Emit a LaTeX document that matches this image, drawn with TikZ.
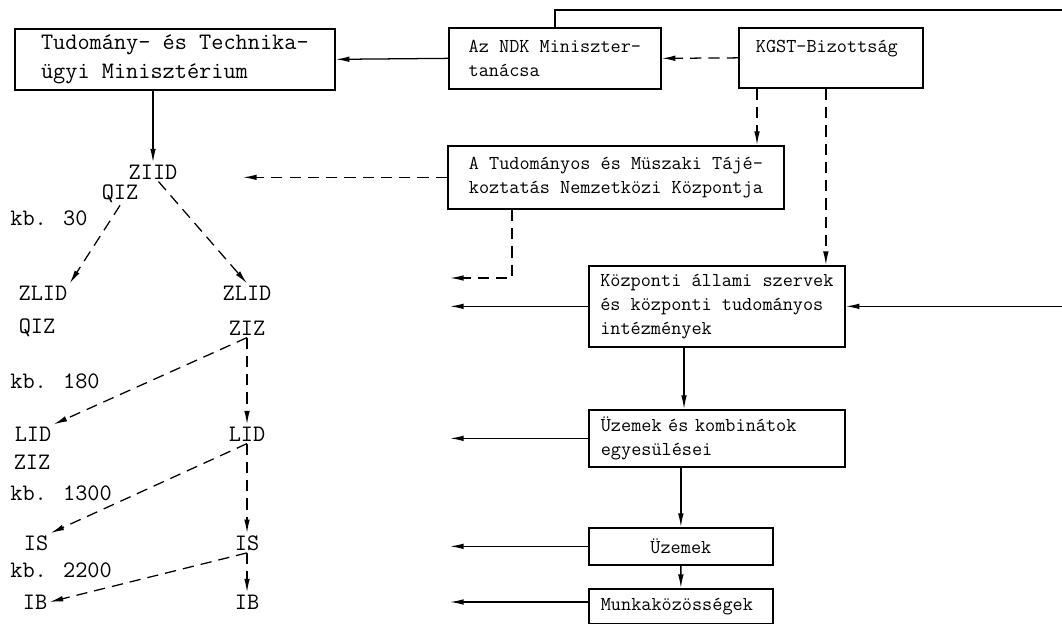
\documentclass[tikz,border=0pt]{standalone}
\usetikzlibrary{arrows.meta}

\newcommand{\typefont}{\ttfamily\fontsize{14}{17}\selectfont}
\newcommand{\widefont}{\ttfamily\fontsize{16.8}{20}\selectfont}

\tikzset{
    box/.style={draw, line width=1.2pt, anchor=north west, align=left, font=\typefont, inner ysep=2pt},
    lbl/.style={font=\widefont, inner sep=1.5pt},
    line/.style={line width=0.9pt},
    arr/.style={line, -{Latex[length=3.4mm,width=1.4mm]}},
    dasharr/.style={arr, dash pattern=on 8pt off 5pt},
}

\begin{document}
\begin{tikzpicture}[x=0.025cm, y=-0.025cm]
        \useasboundingbox (0,0) rectangle (1062,623);
        \clip (0,0) rectangle (1062,623);
        % boxes
        \node[box, font=\widefont, minimum width=8cm, minimum height=1.525cm] (tum) at (14,28) {Tudomány- és Technika-\\ügyi Minisztérium}; %ministry
        \node[box, minimum width=5.3cm, minimum height=1.525cm] (ndk) at (448,27) {Az NDK Miniszter-\\tanácsa}; %council
        \node[box, text width=3.75cm, inner xsep=0.425cm, minimum height=1.5cm] (kgst) at (738,27) {KGST-Bizottság\\\mbox{}}; %committee
        \node[box, minimum width=8.4cm, minimum height=1.575cm] (nk) at (447,145) {A Tudományos és Müszaki Tájé-\\koztatás Nemzetközi Központja}; %intl. centre
        \node[box, minimum width=6.4cm, minimum height=2.025cm] (kasz) at (588,265) {Központi állami szervek\\és központi tudományos\\intézmények};
        \node[box, text width=5.8cm, inner xsep=0.3cm, minimum height=1.425cm] (kombi) at (588,409) {Üzemek és kombinátok\\egyesülései};
        \node[box, align=center, minimum width=4.6cm, minimum height=0.925cm] (uzem) at (588,527) {Üzemek};
        \node[box, text width=4cm, inner xsep=0.3cm, minimum height=0.875cm] (munka) at (588,588) {Munkaközösségek};

        % left column
        \node[lbl] (ziid) at (153,172) {ZIID};
        \node[lbl] (qizT) at (120,194) {QIZ};
        \node[lbl, anchor=west] (kbA) at (8,218) {kb. 30};
        \node[lbl] (zlidA) at (43,293) {ZLID};
        \node[lbl] (zlidB) at (247,293) {ZLID};
        \node[lbl] (qizA) at (37,328) {QIZ};
        \node[lbl] (zizB) at (247,328) {ZIZ};
        \node[lbl, anchor=west] (kbB) at (8,381) {kb. 180};
        \node[lbl] (lidA) at (33,434) {LID};
        \node[lbl] (lidB) at (247,434) {LID};
        \node[lbl] (zizA) at (32,462) {ZIZ};
        \node[lbl, anchor=west] (kbC) at (8,493) {kb. 1300};
        \node[lbl] (isA) at (36,543) {IS};
        \node[lbl] (isB) at (247,543) {IS};
        \node[lbl, anchor=west] (kbD) at (8,570) {kb. 2200};
        \node[lbl] (ibA) at (35,602) {IB};
        \node[lbl] (ibB) at (247,602) {IB};

        % free ends
        \coordinate (topR) at (1062,10);
        \coordinate (outX) at (450,0);
        \coordinate (ziidIn) at (243,0);
        \coordinate (nkOut) at (450,278);
        \coordinate (kgstA) at ([xshift=0.475cm]kgst.south west);
        \coordinate (kgstB) at ([xshift=-0.125cm]kgst.south);
        \coordinate (nkA) at ([xshift=1.625cm]nk.south west);
        \coordinate (kaszA) at ([xshift=2.4cm]kasz.south west);

        % top row
        \draw[arr] (ndk.west) -- (tum.east);
        \draw[dasharr] (kgst.west) -- (ndk.east);
        \draw[line] (ndk.north) |- (topR);
        \draw[dasharr] (kgstA) -- (kgstA |- nk.north);
        \draw[dasharr] (kgstB) -- (kgstB |- kasz.north);
        \draw[arr] (ziid.north |- tum.south) -- (ziid.north);
        \draw[dasharr] (nk.west) -- (nk.west -| ziidIn);
        \draw[dasharr] (nkA) |- (nkOut);

        % right column
        \draw[arr] (kasz.east -| topR) -- (kasz.east);
        \draw[arr] (kaszA) -- (kaszA |- kombi.north);
        \draw[arr] (kombi.south -| uzem.north) -- (uzem.north);
        \draw[arr] (uzem.south) -- (munka.north);
        \draw[arr] (kasz.west) -- (kasz.west -| outX);
        \draw[arr] (kombi.west) -- (kombi.west -| outX);
        \draw[arr] (uzem.west) -- (uzem.west -| outX);
        \draw[arr] (munka.west |- ibB) -- (ibB -| outX);

        % tree
        \draw[dasharr] (qizT.south) -- (zlidA.north east);
        \draw[dasharr] (ziid.-60) -- (zlidB.north);
        \draw[dasharr] (zizB.south) -- (lidA.north east);
        \draw[dasharr] (zizB.south) -- (lidB.north);
        \draw[dasharr] (lidB.south) -- (isA.north east);
        \draw[dasharr] (lidB.south) -- (isB.north);
        \draw[dasharr] (isB.south) -- (ibA.east);
        \draw[dasharr] (isB.south) -- (ibB.north);
\end{tikzpicture}
\end{document}
